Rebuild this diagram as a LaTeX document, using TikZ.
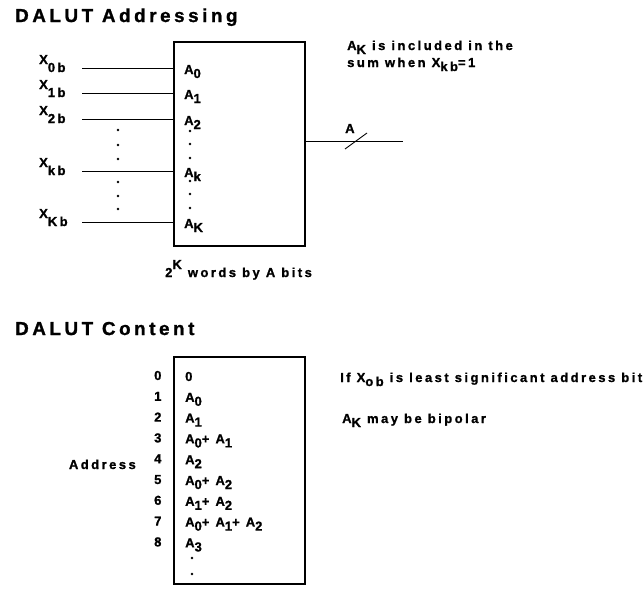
\documentclass[tikz,border=0pt]{standalone}
\usepackage{fontspec}
\setmainfont{Liberation Sans}
\newfontfamily\lbf{Liberation Sans Bold}[LetterSpace=19, FakeBold=1.2]
\newcommand\lo[1]{\raisebox{-4pt}{#1}}
\newcommand\xlo[1]{\raisebox{-8pt}{#1}}
\newcommand\hi[1]{\raisebox{8pt}{#1}}
\begin{document}
\begin{tikzpicture}[x=1pt,y=-1pt,
  txt/.style={anchor=base west, inner sep=0pt, font=\lbf\fontsize{13}{15}\selectfont},
  ttl/.style={anchor=base west, inner sep=0pt, font=\lbf\fontsize{18.8}{21}\selectfont},
  lutbox/.style={draw, line width=2.4pt, inner sep=0pt, minimum width=131pt},
  wire/.style={line width=0.9pt},
  dotn/.style={circle, fill, inner sep=0pt, minimum size=2.6pt}]
\useasboundingbox (0,0) rectangle (644,590);

% ---------- DALUT Addressing ----------
\node[ttl] (t1) at (15,22) {DALUT Addressing};
\node[lutbox, minimum height=204pt] (b1) at (239.5,144) {};

\foreach \L/\s/\n [count=\i] in {68/0b/0, 93/1b/1, 119/2b/2, 171/kb/k, 222/Kb/K}{
  \node[txt] (x\i) at (39,{\L-4}) {X\xlo{\s}};
  \node[txt] (a\i) at (184,{\L+6}) {A\lo{\n}};
  \coordinate (w\i) at (82,\L);
  \draw[wire] (w\i) -- (w\i -| b1.west);
}

\foreach \y [count=\i] in {130,145,159,182,196,209}
  \node[dotn] (ld\i) at (118,\y) {};
\foreach \y [count=\i] in {131,144,158,181,194,208}
  \node[dotn] (id\i) at (190,\y) {};

\coordinate (o) at (403,141);
\draw[wire] (b1.east |- o) -- (o);
\coordinate (s1) at (345,149);
\coordinate (s2) at (367,133);
\draw[wire] (s1) -- (s2);
\node[txt] (alab) at (345,133) {A};

\node[txt] (n1) at (347,50) {A\lo{K} is included in the};
\node[txt] (n2) at (347,67) {sum when X\lo{kb}=1};

\node[txt] (words) at (165,277) {2\hi{K} words by A bits};

% ---------- DALUT Content ----------
\node[ttl] (t2) at (15,335) {DALUT Content};
\node[lutbox, minimum height=227pt] (b2) at (239.5,470.5) {};

\foreach \c [count=\i from 0] in {0, A\lo{0}, A\lo{1}, A\lo{0}+ A\lo{1}, A\lo{2},
    A\lo{0}+ A\lo{2}, A\lo{1}+ A\lo{2}, A\lo{0}+ A\lo{1}+ A\lo{2}, A\lo{3}}{
  \node[txt] (r\i) at (154,{380+20.8*\i}) {\i};
  \node[txt] (c\i) at (185,{381+20.8*\i}) {\c};
}
\node[dotn] (cd1) at (192,558) {};
\node[dotn] (cd2) at (192,574) {};

\node[txt, anchor=base east] (addr) at (136,469) {Address};

\node[txt] (m1) at (340,382) {If X\lo{ob} is least significant address bit};
\node[txt] (m2) at (342,423) {A\lo{K} may be bipolar};
\end{tikzpicture}
\end{document}
